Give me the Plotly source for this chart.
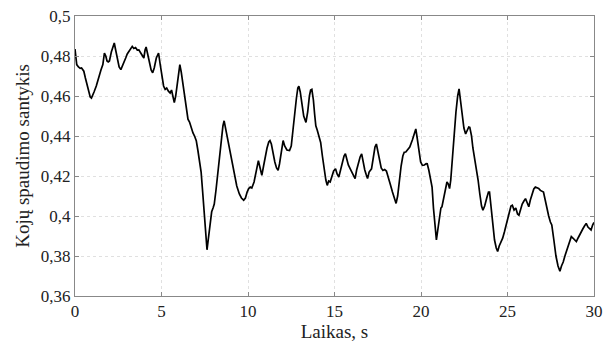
import plotly.graph_objects as go

time_s = [0.00,0.05,0.10,0.20,0.30,0.38,0.45,0.51,0.60,0.70,0.80,0.88,0.95,1.00,1.10,1.23,1.35,1.50,1.61,1.66,1.70,1.78,1.85,1.92,1.99,2.10,2.20,2.27,2.35,2.45,2.55,2.65,2.75,2.85,2.93,3.02,3.13,3.22,3.31,3.40,3.50,3.60,3.69,3.80,3.90,3.98,4.05,4.11,4.20,4.30,4.40,4.49,4.58,4.70,4.83,4.92,5.02,5.12,5.21,5.30,5.40,5.50,5.58,5.65,5.74,5.82,5.90,5.98,6.06,6.14,6.25,6.35,6.45,6.53,6.62,6.72,6.82,6.91,7.01,7.10,7.20,7.29,7.38,7.48,7.56,7.63,7.70,7.80,7.90,7.98,8.05,8.15,8.30,8.45,8.55,8.62,8.70,8.80,8.90,9.00,9.09,9.20,9.35,9.50,9.62,9.75,9.85,9.95,10.04,10.13,10.22,10.35,10.45,10.52,10.60,10.70,10.80,10.90,11.00,11.10,11.20,11.27,11.35,11.45,11.55,11.65,11.74,11.82,11.92,12.00,12.03,12.12,12.25,12.40,12.50,12.60,12.70,12.80,12.88,12.94,13.02,13.12,13.22,13.35,13.45,13.55,13.62,13.69,13.78,13.85,13.92,14.00,14.10,14.20,14.30,14.40,14.50,14.58,14.66,14.75,14.85,14.95,15.06,15.15,15.25,15.35,15.45,15.55,15.63,15.70,15.80,15.91,16.00,16.10,16.19,16.28,16.38,16.48,16.57,16.65,16.75,16.84,16.91,17.00,17.14,17.24,17.34,17.42,17.50,17.60,17.70,17.80,17.90,18.00,18.10,18.22,18.35,18.48,18.56,18.65,18.75,18.85,18.95,19.03,19.12,19.22,19.35,19.50,19.62,19.70,19.78,19.88,19.98,20.08,20.20,20.30,20.36,20.45,20.55,20.64,20.72,20.80,20.89,20.97,21.06,21.15,21.21,21.30,21.40,21.50,21.58,21.65,21.72,21.82,21.92,22.02,22.12,22.20,22.28,22.38,22.48,22.58,22.68,22.76,22.82,22.92,23.00,23.10,23.20,23.30,23.40,23.50,23.58,23.68,23.80,23.90,23.96,24.05,24.15,24.25,24.35,24.43,24.52,24.62,24.72,24.82,24.95,25.08,25.20,25.28,25.38,25.48,25.58,25.66,25.75,25.85,25.95,26.04,26.12,26.23,26.32,26.42,26.52,26.61,26.70,26.80,26.90,27.00,27.08,27.18,27.27,27.38,27.48,27.56,27.68,27.80,27.92,28.03,28.12,28.22,28.31,28.42,28.52,28.62,28.69,28.78,28.88,28.98,29.08,29.18,29.26,29.35,29.45,29.55,29.65,29.75,29.83,29.92,30.00]

ratio = [0.4835,0.4790,0.4757,0.4745,0.4738,0.4740,0.4730,0.4724,0.4690,0.4650,0.4620,0.4595,0.4590,0.4598,0.4620,0.4650,0.4690,0.4730,0.4757,0.4800,0.4815,0.4800,0.4775,0.4770,0.4775,0.4820,0.4855,0.4865,0.4830,0.4780,0.4745,0.4732,0.4750,0.4775,0.4790,0.4810,0.4823,0.4840,0.4848,0.4838,0.4842,0.4830,0.4831,0.4815,0.4800,0.4790,0.4830,0.4845,0.4810,0.4770,0.4730,0.4716,0.4740,0.4790,0.4815,0.4760,0.4700,0.4650,0.4633,0.4640,0.4624,0.4615,0.4630,0.4595,0.4567,0.4600,0.4660,0.4720,0.4757,0.4720,0.4650,0.4600,0.4530,0.4484,0.4470,0.4440,0.4415,0.4400,0.4377,0.4330,0.4270,0.4220,0.4120,0.3990,0.3880,0.3831,0.3880,0.3960,0.4021,0.4040,0.4060,0.4130,0.4250,0.4380,0.4450,0.4476,0.4440,0.4390,0.4355,0.4300,0.4277,0.4220,0.4150,0.4110,0.4090,0.4079,0.4090,0.4120,0.4137,0.4145,0.4140,0.4170,0.4220,0.4250,0.4277,0.4240,0.4203,0.4250,0.4300,0.4340,0.4370,0.4377,0.4360,0.4310,0.4270,0.4240,0.4228,0.4260,0.4330,0.4370,0.4377,0.4350,0.4330,0.4327,0.4350,0.4430,0.4520,0.4590,0.4640,0.4649,0.4620,0.4560,0.4500,0.4468,0.4520,0.4600,0.4630,0.4633,0.4580,0.4510,0.4451,0.4430,0.4401,0.4368,0.4300,0.4230,0.4180,0.4153,0.4175,0.4170,0.4200,0.4225,0.4236,0.4210,0.4195,0.4230,0.4260,0.4300,0.4311,0.4280,0.4255,0.4236,0.4220,0.4200,0.4187,0.4230,0.4270,0.4295,0.4311,0.4270,0.4230,0.4205,0.4187,0.4220,0.4236,0.4290,0.4345,0.4360,0.4330,0.4280,0.4240,0.4228,0.4232,0.4225,0.4200,0.4160,0.4120,0.4080,0.4063,0.4100,0.4180,0.4250,0.4300,0.4319,0.4320,0.4330,0.4345,0.4380,0.4410,0.4435,0.4390,0.4320,0.4270,0.4253,0.4255,0.4262,0.4261,0.4230,0.4190,0.4145,0.4040,0.3950,0.3880,0.3930,0.4000,0.4040,0.4046,0.4090,0.4140,0.4170,0.4160,0.4137,0.4180,0.4300,0.4420,0.4520,0.4600,0.4636,0.4580,0.4500,0.4440,0.4410,0.4430,0.4445,0.4443,0.4401,0.4340,0.4290,0.4236,0.4180,0.4110,0.4050,0.4029,0.4050,0.4090,0.4120,0.4120,0.4040,0.3950,0.3880,0.3840,0.3823,0.3850,0.3870,0.3889,0.3920,0.3970,0.4020,0.4050,0.4054,0.4030,0.4040,0.4010,0.4004,0.4030,0.4060,0.4075,0.4087,0.4070,0.4046,0.4080,0.4110,0.4135,0.4145,0.4140,0.4138,0.4128,0.4125,0.4120,0.4080,0.4038,0.4000,0.3970,0.3955,0.3880,0.3800,0.3750,0.3724,0.3750,0.3770,0.3798,0.3830,0.3860,0.3880,0.3897,0.3890,0.3880,0.3872,0.3890,0.3910,0.3922,0.3935,0.3950,0.3963,0.3945,0.3935,0.3930,0.3955,0.3968]

x_ticks = [0, 5, 10, 15, 20, 25, 30]
x_tick_labels = ["0", "5", "10", "15", "20", "25", "30"]
y_ticks = [0.36, 0.38, 0.40, 0.42, 0.44, 0.46, 0.48, 0.50]
y_tick_labels = ["0,36", "0,38", "0,4", "0,42", "0,44", "0,46", "0,48", "0,5"]

fig = go.Figure()
fig.add_trace(go.Scatter(x=time_s, y=ratio, mode="lines",
                         line=dict(color="black", width=1.7),
                         showlegend=False, hoverinfo="skip"))

font_family = "Liberation Serif, Times New Roman, serif"
axis_common = dict(
    showline=True, linecolor="#888888", linewidth=1, mirror="ticks",
    ticks="inside", ticklen=4, tickcolor="#888888",
    showgrid=True, gridcolor="#e0e0e0", gridwidth=1, griddash="dot",
    zeroline=False, ticklabeloverflow="allow",
    tickfont=dict(family=font_family, size=17, color="#222222"),
)

fig.update_layout(
    width=609, height=343,
    margin=dict(l=75, r=6, t=16, b=45),
    paper_bgcolor="white", plot_bgcolor="white",
    font=dict(family=font_family, color="#222222"),
    xaxis=dict(range=[0, 30], tickvals=x_ticks, ticktext=x_tick_labels,
               title=dict(text="Laikas, s", font=dict(family=font_family, size=19), standoff=2),
               **axis_common),
    yaxis=dict(range=[0.36, 0.50], tickvals=y_ticks, ticktext=y_tick_labels,
               title=dict(text="Kojų spaudimo santykis", font=dict(family=font_family, size=19), standoff=6),
               **axis_common),
)

fig.write_html("out.html")
